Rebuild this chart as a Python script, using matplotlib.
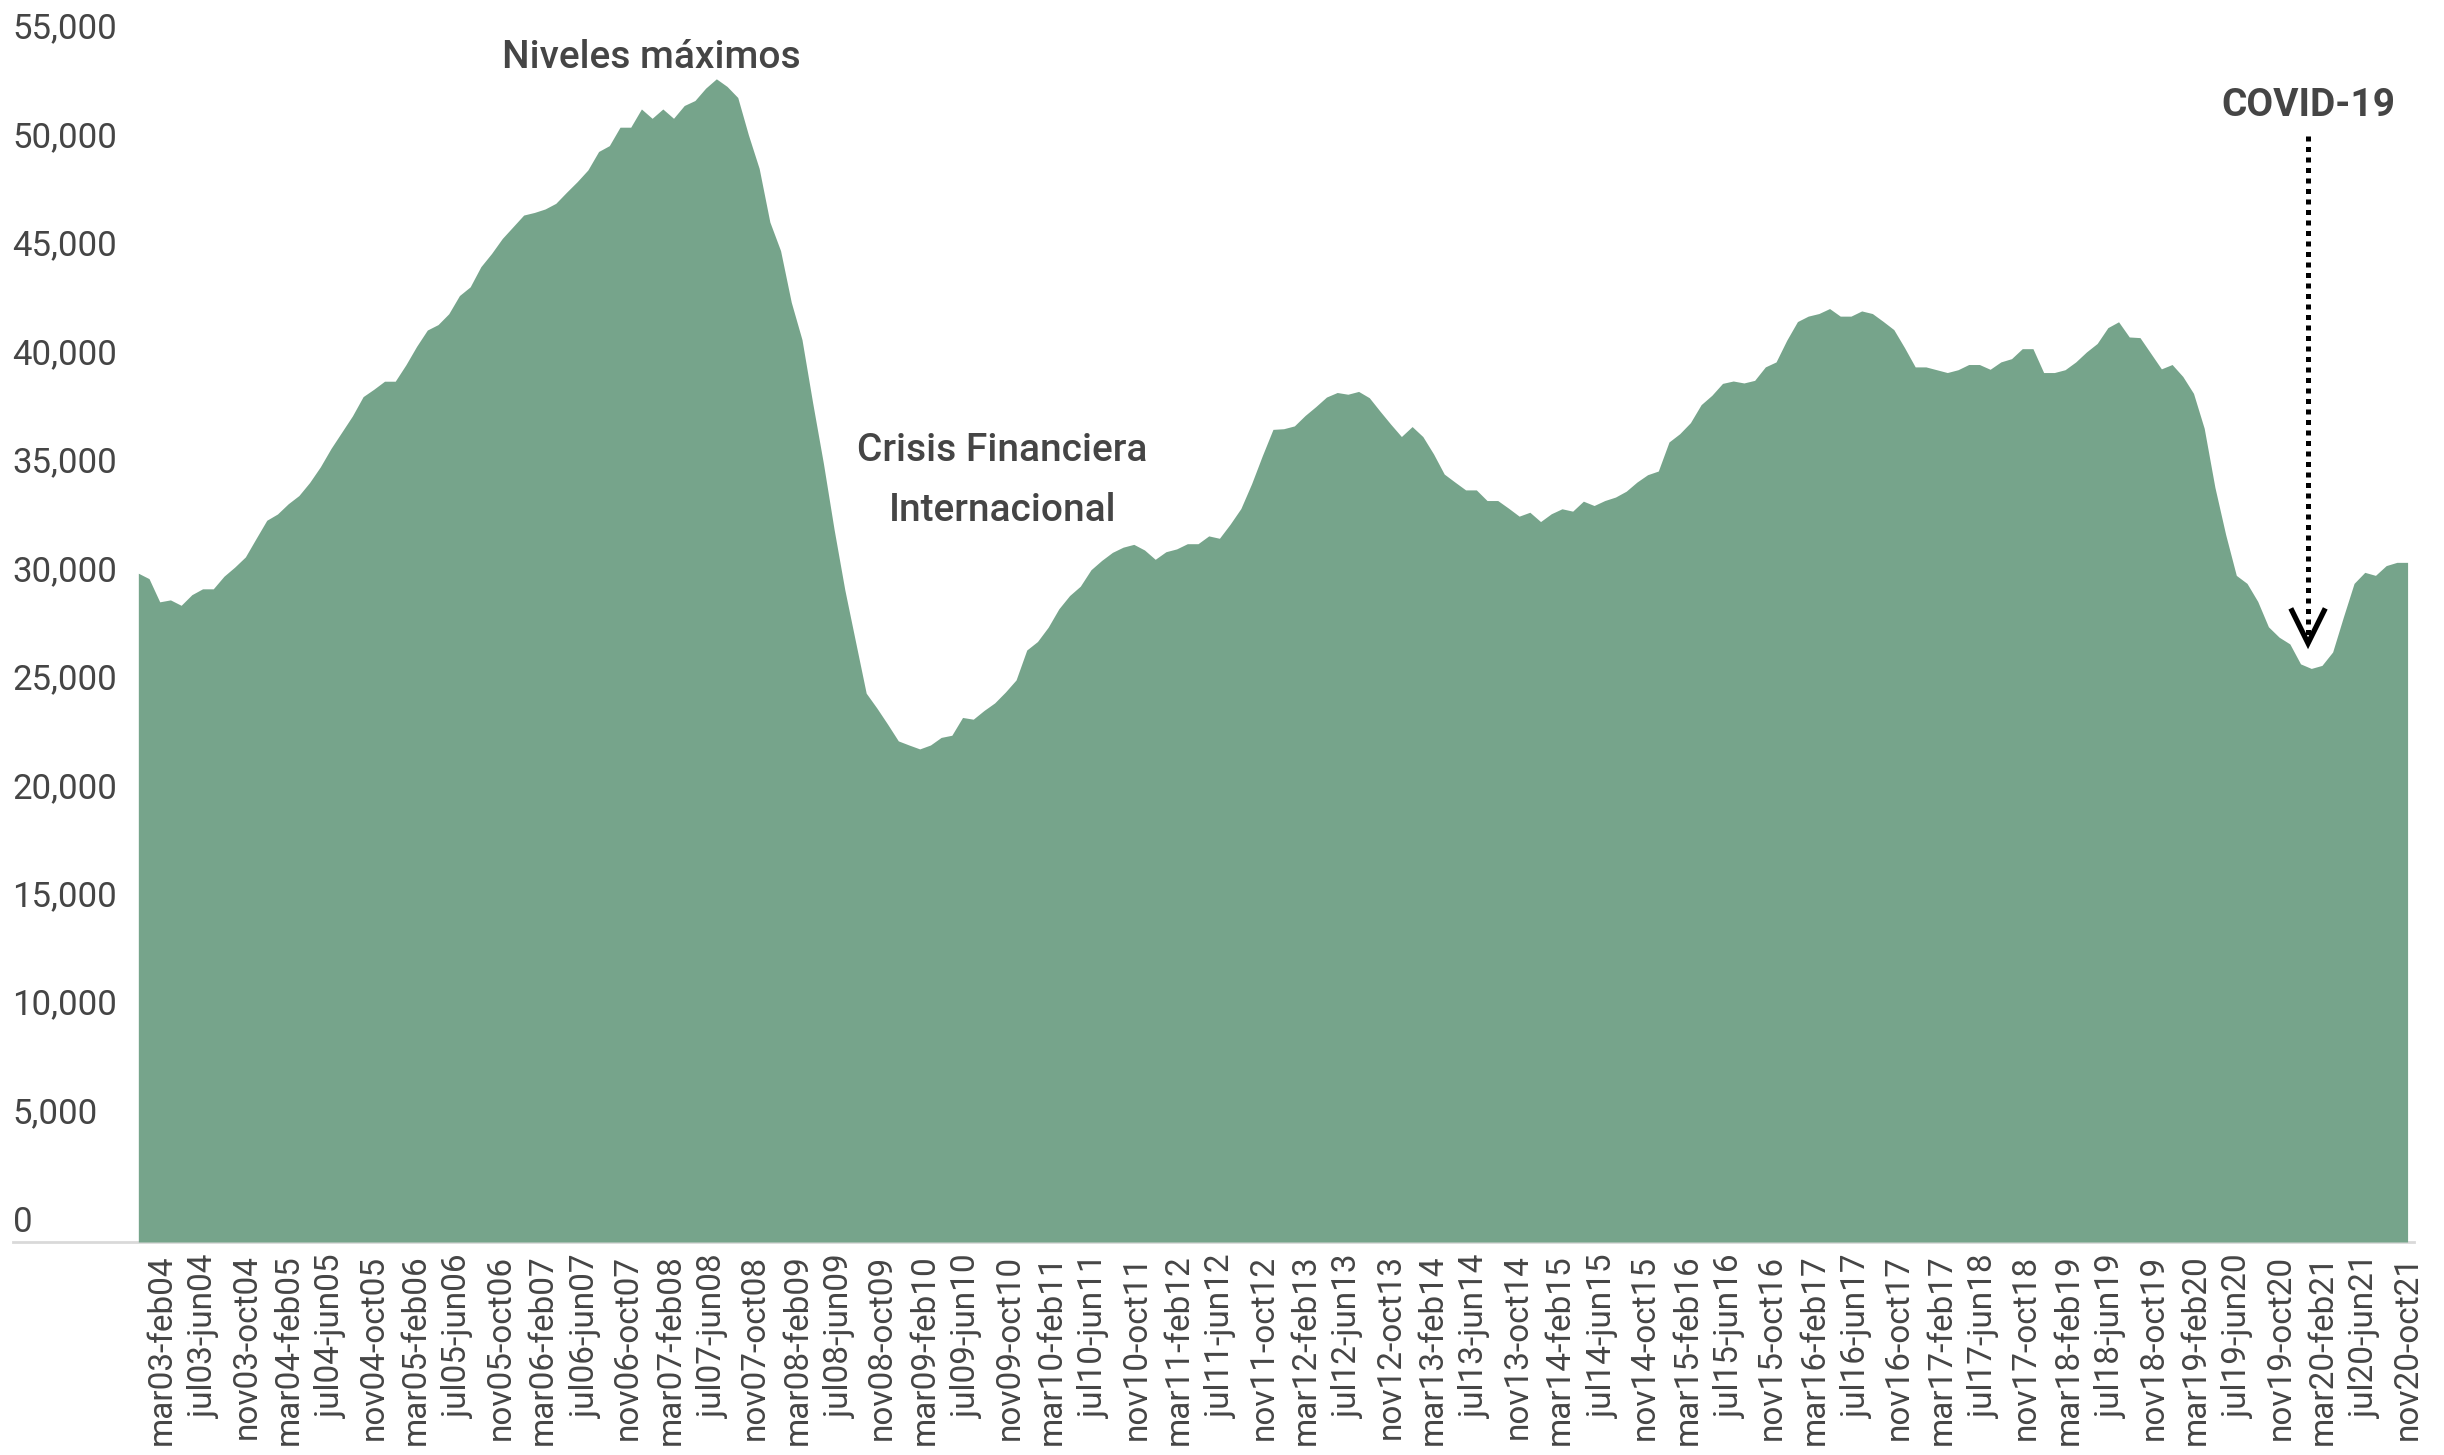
import numpy as np
import matplotlib
matplotlib.use("Agg")
import matplotlib.pyplot as plt
import matplotlib.transforms as mtransforms

plt.rcParams['font.family'] = ['Roboto', 'DejaVu Sans']

# Ventanas móviles de 12 meses (mar03-feb04 ... nov20-oct21), valores mensuales
valores = [
    30830, 30580, 29510, 29600, 29350, 29840, 30110, 30110, 30690, 31110,
    31580, 32430, 33270, 33560, 34030, 34410, 35010, 35730, 36580, 37330,
    38080, 38970, 39310, 39680, 39680, 40440, 41290, 42040, 42290, 42790,
    43630, 44030, 44960, 45570, 46260, 46800, 47340, 47460, 47620, 47880,
    48390, 48880, 49420, 50270, 50540, 51390, 51390, 52230, 51800, 52230,
    51800, 52390, 52620, 53190, 53620, 53270, 52760, 51030, 49490, 47020,
    45700, 43320, 41600, 38680, 35900, 32850, 30070, 27680, 25300, 24610,
    23870, 23100, 22910, 22730, 22910, 23260, 23360, 24180, 24100, 24500,
    24850, 25350, 25910, 27290, 27680, 28340, 29190, 29800, 30230, 30990,
    31420, 31790, 32030, 32160, 31900, 31470, 31820, 31950, 32190, 32190,
    32550, 32440, 33090, 33810, 34950, 36240, 37460, 37490, 37620, 38100,
    38510, 38950, 39160, 39080, 39210, 38920, 38300, 37700, 37130, 37590,
    37130, 36330, 35400, 35030, 34670, 34670, 34180, 34180, 33830, 33460,
    33640, 33210, 33570, 33800, 33690, 34150, 33950, 34180, 34340, 34610,
    35030, 35370, 35540, 36880, 37260, 37770, 38600, 39030, 39580, 39690,
    39600, 39720, 40340, 40570, 41570, 42430, 42680, 42800, 43030, 42680,
    42680, 42920, 42800, 42440, 42060, 41230, 40340, 40340, 40210, 40080,
    40210, 40450, 40450, 40230, 40570, 40720, 41180, 41180, 40080, 40080,
    40210, 40570, 41030, 41420, 42150, 42420, 41720, 41690, 40970, 40250,
    40450, 39900, 39120, 37510, 34790, 32620, 30730, 30360, 29530, 28360,
    27880, 27570, 26650, 26440, 26580, 27200, 28810, 30360, 30870, 30730,
    31180, 31330, 31330,
]

etiquetas = [
    "mar03-feb04", "jul03-jun04", "nov03-oct04", "mar04-feb05", "jul04-jun05",
    "nov04-oct05", "mar05-feb06", "jul05-jun06", "nov05-oct06", "mar06-feb07",
    "jul06-jun07", "nov06-oct07", "mar07-feb08", "jul07-jun08", "nov07-oct08",
    "mar08-feb09", "jul08-jun09", "nov08-oct09", "mar09-feb10", "jul09-jun10",
    "nov09-oct10", "mar10-feb11", "jul10-jun11", "nov10-oct11", "mar11-feb12",
    "jul11-jun12", "nov11-oct12", "mar12-feb13", "jul12-jun13", "nov12-oct13",
    "mar13-feb14", "jul13-jun14", "nov13-oct14", "mar14-feb15", "jul14-jun15",
    "nov14-oct15", "mar15-feb16", "jul15-jun16", "nov15-oct16", "mar16-feb17",
    "jul16-jun17", "nov16-oct17", "mar17-feb17", "jul17-jun18", "nov17-oct18",
    "mar18-feb19", "jul18-jun19", "nov18-oct19", "mar19-feb20", "jul19-jun20",
    "nov19-oct20", "mar20-feb21", "jul20-jun21", "nov20-oct21",
]

marcas_y = [0, 5000, 10000, 15000, 20000, 25000, 30000, 35000, 40000, 45000, 50000, 55000]

verde = "#76a48b"
gris_texto = "#454545"

fig = plt.figure(figsize=(24.44, 14.55), dpi=100)
ax = fig.add_axes([0.0566, 0.1464, 0.9285, 0.8200])

x = np.arange(len(valores))
ax.fill_between(x, 0, valores, color=verde, linewidth=0, zorder=2)

ax.set_xlim(0, len(valores) - 1)
ax.set_ylim(0, 55000)

for s in ax.spines.values():
    s.set_visible(False)

# linea base gris
ax.axhline(0, xmin=-0.0552, xmax=1.0028, color="#d9d9d9", lw=2.0,
           clip_on=False, zorder=1)

# etiquetas del eje y, alineadas a la izquierda y sobre la linea del valor
trans_y = mtransforms.blended_transform_factory(fig.transFigure, ax.transData)
trans_y = mtransforms.offset_copy(trans_y, fig=fig, y=7.5, units='points')
for v in marcas_y:
    ax.text(12.5 / 2444, v, f"{v:,}", transform=trans_y, ha="left",
            va="baseline", fontsize=25, color=gris_texto)
ax.set_yticks([])

# etiquetas del eje x
pos_x = np.linspace(2.2, len(valores) - 1, len(etiquetas))
ax.set_xticks(pos_x)
ax.set_xticklabels(etiquetas, rotation=90, fontsize=24, color=gris_texto)
ax.tick_params(axis="x", length=0, pad=9)

# anotaciones
ax.text(47.9, 54100, "Niveles máximos", ha="center", va="baseline",
        fontsize=28, fontweight="medium", color=gris_texto)
ax.text(80.7, 36010, "Crisis Financiera", ha="center", va="baseline",
        fontsize=28, fontweight="medium", color=gris_texto)
ax.text(80.7, 33240, "Internacional", ha="center", va="baseline",
        fontsize=28, fontweight="medium", color=gris_texto)
ax.text(202.7, 51900, "COVID-19", ha="center", va="baseline",
        fontsize=28, fontweight="bold", color=gris_texto)

# flecha punteada hacia el minimo de la pandemia
ax.plot([202.7, 202.7], [50970, 27900], color="black", lw=3.6,
        linestyle=(0, (1.0, 1.1)), dash_capstyle="butt", zorder=4)
ax.plot([201.2, 202.7, 204.2], [29100, 27600, 29100], color="black",
        lw=3.8, solid_joinstyle="miter", zorder=4)

fig.savefig("out.png", dpi=100)
